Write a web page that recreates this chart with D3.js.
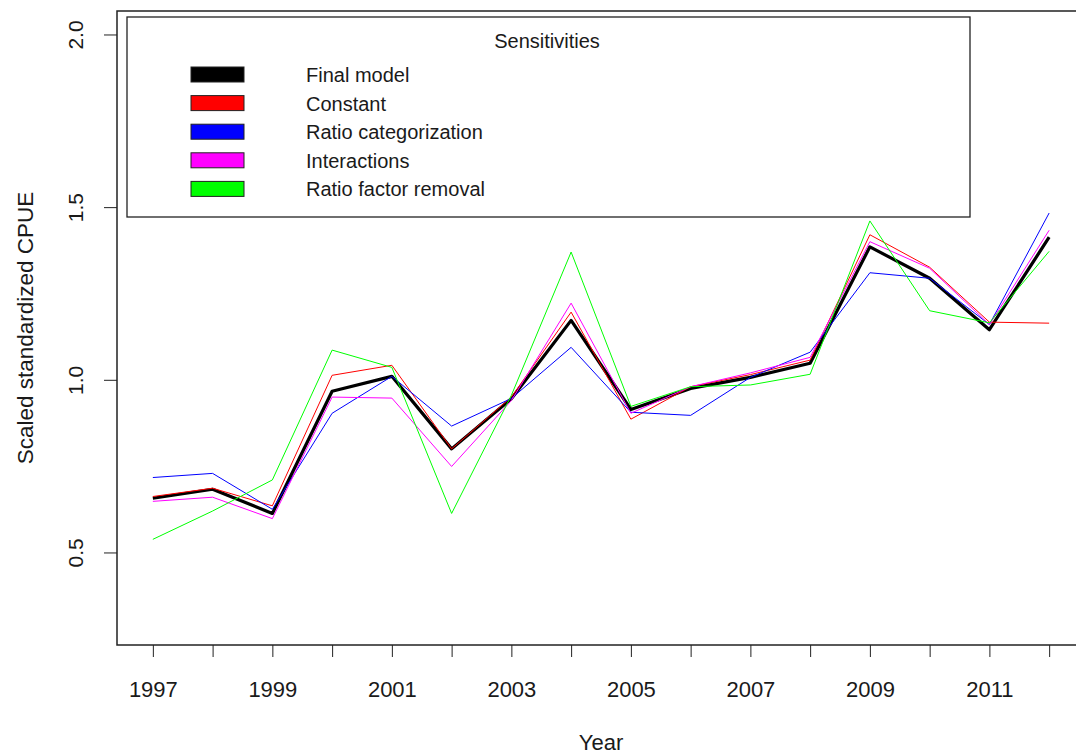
<!DOCTYPE html>
<html>
<head>
<meta charset="utf-8">
<script src="https://cdn.jsdelivr.net/npm/d3@7"></script>
<style>
  body { margin: 0; background: #fff; }
  text { font-family: "Liberation Sans", Arial, sans-serif; fill: #1a1a1a; }
</style>
</head>
<body>
<div id="chart"></div>
<script>
// Data
const years = [1997, 1998, 1999, 2000, 2001, 2002, 2003, 2004, 2005, 2006, 2007, 2008, 2009, 2010, 2011, 2012];
const finalModel = [0.657, 0.683, 0.613, 0.967, 1.010, 0.800, 0.945, 1.172, 0.914, 0.975, 1.007, 1.048, 1.385, 1.294, 1.145, 1.413];
const constant = [0.662, 0.686, 0.635, 1.013, 1.042, 0.800, 0.950, 1.196, 0.886, 0.980, 1.015, 1.057, 1.420, 1.326, 1.167, 1.164];
const ratioCat = [0.717, 0.729, 0.625, 0.903, 1.010, 0.866, 0.946, 1.094, 0.906, 0.897, 1.007, 1.080, 1.310, 1.294, 1.160, 1.483];
const interactions = [0.648, 0.660, 0.598, 0.950, 0.947, 0.749, 0.940, 1.222, 0.903, 0.980, 1.020, 1.065, 1.400, 1.323, 1.160, 1.433];
const ratioRemoval = [0.538, 0.620, 0.710, 1.086, 1.036, 0.613, 0.955, 1.370, 0.923, 0.980, 0.985, 1.016, 1.460, 1.200, 1.165, 1.372];
const seriesNames = ["Final model", "Constant", "Ratio categorization", "Interactions", "Ratio factor removal"];
const seriesColors = ["#000000", "#ff0000", "#0000ff", "#ff00ff", "#00ff00"];
const yTicks = [0.5, 1.0, 1.5, 2.0];
const xLabelYears = [1997, 1999, 2001, 2003, 2005, 2007, 2009, 2011];

const width = 1076;
const height = 756;
const margin = { top: 11, right: -9, bottom: 111, left: 117 };
const innerWidth = width - margin.left - margin.right;
const innerHeight = height - margin.top - margin.bottom;

const svg = d3.select("#chart")
  .append("svg")
  .attr("width", width)
  .attr("height", height);

const chart = svg.append("g")
  .attr("transform", `translate(${margin.left}, ${margin.top})`);

// Scales (R style 4% padding around xlim/ylim)
const xScale = d3.scaleLinear().domain([1996.4, 2012.6]).range([0, innerWidth]);
const yScale = d3.scaleLinear().domain([0.232, 2.068]).range([innerHeight, 0]);

// Lines
const line = d3.line()
  .x((d) => xScale(d.year))
  .y((d) => yScale(d.value));

const allSeries = [finalModel, constant, ratioCat, interactions, ratioRemoval];
allSeries.forEach((values, i) => {
  chart.append("path")
    .datum(values.map((v, j) => ({ year: years[j], value: v })))
    .attr("fill", "none")
    .attr("stroke", seriesColors[i])
    .attr("stroke-width", i === 0 ? 3.2 : 1)
    .attr("stroke-linejoin", "round")
    .attr("d", line);
});

// Plot box (right side runs past the picture edge)
chart.append("rect")
  .attr("x", 0)
  .attr("y", 0)
  .attr("width", innerWidth)
  .attr("height", innerHeight)
  .attr("fill", "none")
  .attr("stroke", "#222")
  .attr("stroke-width", 1.5);

// X axis
const xAxis = d3.axisBottom(xScale)
  .tickValues(years)
  .tickSize(12)
  .tickFormat((d) => (xLabelYears.includes(d) ? d : ""));
const gx = chart.append("g")
  .attr("transform", `translate(0, ${innerHeight})`)
  .call(xAxis);
gx.select(".domain").remove();
gx.selectAll("line").attr("stroke", "#222");
gx.selectAll("text").filter((d) => !xLabelYears.includes(d)).remove();
gx.selectAll("text")
  .attr("y", 52)
  .attr("dy", 0)
  .attr("font-size", 22)
  .style("font-family", "Liberation Sans, Arial, sans-serif")
  .attr("fill", "#1a1a1a");

// Y axis
const yAxis = d3.axisLeft(yScale)
  .tickValues(yTicks)
  .tickSize(13)
  .tickFormat(d3.format(".1f"));
const gy = chart.append("g").call(yAxis);
gy.select(".domain").remove();
gy.selectAll("line").attr("stroke", "#222");
gy.selectAll("text")
  .attr("x", 0)
  .attr("dy", 0)
  .attr("text-anchor", "middle")
  .attr("transform", "translate(-34, 0) rotate(-90)")
  .attr("font-size", 21)
  .style("font-family", "Liberation Sans, Arial, sans-serif")
  .attr("fill", "#1a1a1a");

// Axis titles
svg.append("text")
  .attr("x", margin.left + innerWidth / 2)
  .attr("y", 750)
  .attr("text-anchor", "middle")
  .attr("font-size", 22)
  .text("Year");

svg.append("text")
  .attr("transform", `translate(33, ${margin.top + innerHeight / 2}) rotate(-90)`)
  .attr("text-anchor", "middle")
  .attr("font-size", 22.5)
  .text("Scaled standardized CPUE");

// Legend
const legend = svg.append("g").attr("transform", "translate(127, 17)");
legend.append("rect")
  .attr("width", 843)
  .attr("height", 200)
  .attr("fill", "#fff")
  .attr("stroke", "#222")
  .attr("stroke-width", 1.3);
legend.append("text")
  .attr("x", 420)
  .attr("y", 31)
  .attr("text-anchor", "middle")
  .attr("font-size", 20)
  .text("Sensitivities");

const legendItem = legend.selectAll(".legend-item")
  .data(seriesNames)
  .enter()
  .append("g")
  .attr("class", "legend-item")
  .attr("transform", (d, i) => `translate(0, ${50 + i * 28.6})`);

legendItem.append("rect")
  .attr("x", 64)
  .attr("y", 0)
  .attr("width", 53)
  .attr("height", 15)
  .attr("fill", (d, i) => seriesColors[i])
  .attr("stroke", "#222")
  .attr("stroke-width", 1);

legendItem.append("text")
  .attr("x", 179)
  .attr("y", 15)
  .attr("font-size", 20)
  .text((d) => d);
</script>
</body>
</html>
